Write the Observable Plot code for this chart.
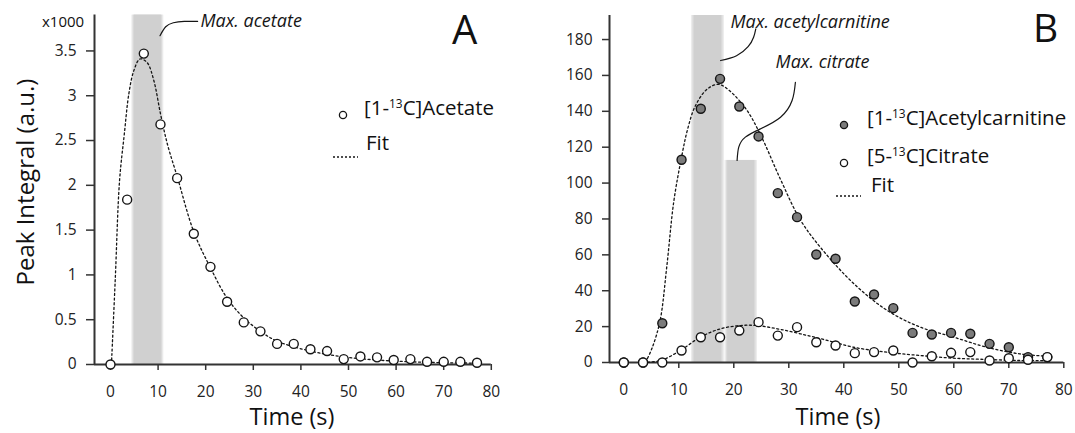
<!DOCTYPE html>
<html>
<head>
<meta charset="utf-8">
<script src="https://cdn.jsdelivr.net/npm/d3@7"></script>
<script src="https://cdn.jsdelivr.net/npm/@observablehq/plot@0.6"></script>
<style>
  html, body { margin: 0; padding: 0; background: #fff; }
  body { font-family: "Open Sans", sans-serif; color: #111; }
  #wrap { position: relative; width: 1075px; height: 433px; overflow: hidden; }
  .panel { position: absolute; top: 0; }
  .txt { position: absolute; white-space: nowrap; line-height: normal; color: #111; }
  .txt sup { font-size: 0.58em; vertical-align: 0; position: relative; top: -0.62em; }
  .sym { position: absolute; }
</style>
</head>
<body>
<div id="wrap"></div>
<script>
// ---------- data ----------
const time = [0,3.5,7,10.5,14,17.5,21,24.5,28,31.5,35,38.5,42,45.5,49,52.5,56,59.5,63,66.5,70,73.5,77];
// Panel A, x1000 a.u.
const acetate = [0,1.84,3.47,2.68,2.08,1.46,1.09,0.70,0.47,0.37,0.23,0.23,0.17,0.15,0.06,0.09,0.08,0.05,0.06,0.03,0.03,0.03,0.02];
const fitTimeA = [0.2,1.0,1.9,2.9,3.85,4.9,6.2,7.7,9.1,10.5,12,14,17.5,21,24.5,28,31.5,35,42,49,56,63,70,78];
const fitAcetate = [0,0.95,2.05,2.57,3.02,3.28,3.41,3.37,3.17,2.8,2.45,2.1,1.48,1.08,0.74,0.52,0.37,0.26,0.15,0.085,0.05,0.03,0.02,0.015];
// Panel B, a.u.
const acetylcarnitine = [0,0,21.9,113,141.4,158.1,142.7,126,94.4,81,60.2,57.8,34,37.9,30.3,16.5,15.6,16.5,16,10.4,8.5,3,3];
const citrate = [0,0,0,6.7,14.1,14.1,17.8,22.5,15,19.7,11.3,9.5,5.2,5.8,6.7,0,3.5,5.4,5.8,1.1,2.4,1.5,3];
const fitTimeCarn = [3.95,5.2,6.6,7.8,9.1,10.6,11.6,13,15.2,17.3,19.4,22.4,25,28.5,32,35.8,41.8,47.9,53.9,60,66,72,77];
const fitCarn = [0,8.5,23.4,53,90,116,130,143,152.5,155,151,140.5,126,102,80,64,44,29,19.7,14.1,8.5,4.8,3.5];
const fitTimeCit = [3.5,6.7,10.3,13.9,17.6,21.2,24.2,27.9,32.1,37,41.8,47.9,53.9,60,66,72,77];
const fitCit = [0,1.1,6.7,14.1,18.8,20.6,20.6,18.8,16,12.3,8.5,5.7,3.9,2.4,1.7,1.1,1.1];
// time windows of maxima
const maxAcetate = [4.9, 10.8];
const maxAcetylcarnitine = [12.7, 17.9];
const maxCitrate = [18.8, 23.9, 112.6];
// ticks
const xTicks = [0,10,20,30,40,50,60,70,80];
const yTicksA = [0,0.5,1,1.5,2,2.5,3,3.5];
const yTicksB = [0,20,40,60,80,100,120,140,160,180];

// ---------- build tables ----------
const zip = (xs, ys) => xs.map((t, i) => ({t, v: ys[i]}));
const ptsA = zip(time, acetate);
const fitA = zip(fitTimeA, fitAcetate);
const ptsCarn = zip(time, acetylcarnitine);
const ptsCit = zip(time, citrate);
const fitC = zip(fitTimeCarn, fitCarn);
const fitT = zip(fitTimeCit, fitCit);

const FONT = "'Open Sans', sans-serif";
const INK = "#151515";
const BAND = "#d0d0d0";
const dash = "2,2.6";
const R = 4.5;

function bandMarks(x1, x2, top) {
  return [
    Plot.rect([0], {x1: x1 - 0.4, x2: x2 + 0.4, y1: 0, y2: top, fill: BAND, fillOpacity: 0.4}),
    Plot.rect([0], {x1: x1 - 0.15, x2: x2 + 0.15, y1: 0, y2: top, fill: BAND, fillOpacity: 0.6}),
    Plot.rect([0], {x1: x1 + 0.1, x2: x2 - 0.1, y1: 0, y2: top, fill: BAND})
  ];
}

function axisMarks(xmin, yTicks, ySize) {
  return [
    Plot.axisX({ticks: xTicks, tickSize: 6, tickPadding: 15, label: null, fontSize: 15.5, tickFormat: d => String(d), stroke: "#333", strokeWidth: 1.5}),
    Plot.axisY({ticks: yTicks, tickSize: ySize, tickPadding: 10, label: null, fontSize: 15.5, tickFormat: d => String(d), stroke: "#333", strokeWidth: 1.5}),
    Plot.ruleX([xmin], {stroke: "#333", strokeWidth: 2}),
    Plot.ruleY([0], {stroke: "#333", strokeWidth: 2})
  ];
}

// ---------- Panel A ----------
const xMinA = -3.36, yMaxA = 3.9;
const plotA = Plot.plot({
  width: 540, height: 433,
  marginLeft: 94, marginRight: 49.2, marginTop: 14.6, marginBottom: 69,
  x: {domain: [xMinA, 80]},
  y: {domain: [0, yMaxA]},
  style: {fontFamily: FONT, fontSize: "16px", color: "#222", background: "transparent", overflow: "visible"},
  marks: [
    ...bandMarks(maxAcetate[0], maxAcetate[1], yMaxA),
    ...axisMarks(xMinA, yTicksA, 8),
    Plot.line(fitA, {x: "t", y: "v", curve: "catmull-rom", stroke: INK, strokeWidth: 1.3, strokeDasharray: dash}),
    Plot.dot(ptsA, {x: "t", y: "v", r: R, fill: "white", stroke: INK, strokeWidth: 1.4}),
    Plot.line([{t:10.4,v:3.67},{t:11.6,v:3.77},{t:13.2,v:3.815},{t:15.5,v:3.83},{t:18.3,v:3.83}],
      {x: "t", y: "v", curve: "natural", stroke: INK, strokeWidth: 1.2}),
    Plot.text(["Max. acetate"], {x: 18.9, y: 3.83, textAnchor: "start", fontStyle: "italic", fontSize: 18, fill: INK})
  ]
});
plotA.classList.add("panel");
plotA.style.left = "0px";

// ---------- Panel B ----------
const xMinB = -2.6, yMaxB = 193.4;
const plotB = Plot.plot({
  width: 535, height: 433,
  marginLeft: 69, marginRight: 11.7, marginTop: 15, marginBottom: 71,
  x: {domain: [xMinB, 80]},
  y: {domain: [0, yMaxB]},
  style: {fontFamily: FONT, fontSize: "16px", color: "#222", background: "transparent", overflow: "visible"},
  marks: [
    ...bandMarks(maxAcetylcarnitine[0], maxAcetylcarnitine[1], yMaxB),
    ...bandMarks(maxCitrate[0], maxCitrate[1], maxCitrate[2]),
    ...axisMarks(xMinB, yTicksB, 7),
    Plot.line(fitC, {x: "t", y: "v", curve: "catmull-rom", stroke: INK, strokeWidth: 1.3, strokeDasharray: dash}),
    Plot.line(fitT, {x: "t", y: "v", curve: "catmull-rom", stroke: INK, strokeWidth: 1.3, strokeDasharray: dash}),
    Plot.dot(ptsCarn, {x: "t", y: "v", r: R, fill: "#7b7b7b", stroke: INK, strokeWidth: 1.4}),
    Plot.dot(ptsCit, {x: "t", y: "v", r: R, fill: "white", stroke: INK, strokeWidth: 1.4}),
    Plot.line([{t:17.6,v:168.3},{t:20.5,v:171},{t:22.6,v:176},{t:23.6,v:181.3},{t:24.0,v:186}],
      {x: "t", y: "v", curve: "natural", stroke: INK, strokeWidth: 1.2}),
    Plot.line([{t:20.6,v:112.6},{t:20.9,v:120},{t:22.1,v:125.6},{t:24.9,v:130.3},{t:28.5,v:136.7},{t:30.6,v:146},{t:31.2,v:156.2}],
      {x: "t", y: "v", curve: "natural", stroke: INK, strokeWidth: 1.2}),
    Plot.text(["Max. acetylcarnitine"], {x: 19.4, y: 189.5, textAnchor: "start", fontStyle: "italic", fontSize: 18, fill: INK}),
    Plot.text(["Max. citrate"], {x: 27.6, y: 167.2, textAnchor: "start", fontStyle: "italic", fontSize: 18, fill: INK})
  ]
});
plotB.classList.add("panel");
plotB.style.left = "540px";

const wrap = document.getElementById("wrap");
wrap.appendChild(plotA);
wrap.appendChild(plotB);

// ---------- HTML text: titles, labels, legends ----------
// place a text by its baseline (Open Sans ascent = 1.069em with line-height normal)
function addText(html, left, baseline, fs, extra) {
  const d = document.createElement("div");
  d.className = "txt";
  d.innerHTML = html;
  Object.assign(d.style, {left: left + "px", top: (baseline - 1.069 * fs) + "px", fontSize: fs + "px"}, extra || {});
  wrap.appendChild(d);
  return d;
}
function addSym(svg, left, top, w, h) {
  const d = document.createElement("div");
  d.className = "sym";
  Object.assign(d.style, {left: left + "px", top: top + "px", width: w + "px", height: h + "px"});
  d.innerHTML = `<svg width="${w}" height="${h}" viewBox="0 0 ${w} ${h}">${svg}</svg>`;
  wrap.appendChild(d);
}

addText("x1000", 42, 27, 15);
addText("A", 452, 43.5, 40);
addText("B", 1033, 41.7, 39);
const yl = document.createElement("div");
yl.className = "txt";
yl.textContent = "Peak Integral (a.u.)";
Object.assign(yl.style, {left: "24px", top: "182px", fontSize: "24px", transform: "translate(-50%,-50%) rotate(-90deg)"});
wrap.appendChild(yl);
addText("Time (s)", 292, 425, 23.5, {transform: "translateX(-50%)"});
addText("Time (s)", 838, 425, 23.5, {transform: "translateX(-50%)"});

const LF = 20.5;
// legend A
addSym(`<circle cx="5" cy="5" r="3.6" fill="white" stroke="${INK}" stroke-width="1.3"/>`, 338.3, 102.7, 10, 10);
addText("[1-<sup>13</sup>C]Acetate", 364, 115, LF);
addSym(`<line x1="0" y1="2" x2="25" y2="2" stroke="${INK}" stroke-width="1.3" stroke-dasharray="2,2"/>`, 333, 141.5, 25, 4);
addText("Fit", 366, 150, LF);

// legend B
addSym(`<circle cx="5" cy="5" r="3.6" fill="#7b7b7b" stroke="${INK}" stroke-width="1.3"/>`, 839, 113.3, 10, 10);
addText("[1-<sup>13</sup>C]Acetylcarnitine", 867, 125, LF);
addSym(`<circle cx="5" cy="5" r="3.6" fill="white" stroke="${INK}" stroke-width="1.3"/>`, 839, 151, 10, 10);
addText("[5-<sup>13</sup>C]Citrate", 867, 163, LF);
addSym(`<line x1="0" y1="2" x2="25" y2="2" stroke="${INK}" stroke-width="1.3" stroke-dasharray="2,2"/>`, 836, 180.7, 25, 4);
addText("Fit", 871, 191.7, LF);
</script>
</body>
</html>
